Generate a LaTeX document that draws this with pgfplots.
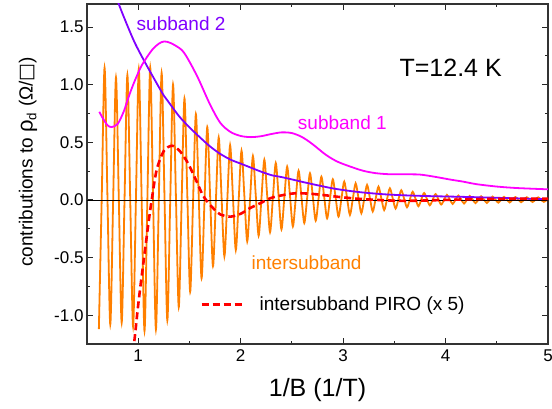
\documentclass[border=0pt]{standalone}
\usepackage{fontspec}
\setmainfont{Liberation Sans}
\newfontfamily\dejavu{DejaVu Sans}
\usepackage{pgfplots}
\pgfplotsset{compat=1.18}
\definecolor{sub2}{RGB}{128,0,255}
\definecolor{sub1}{RGB}{255,0,255}
\definecolor{inter}{RGB}{255,128,0}
\definecolor{piro}{RGB}{255,0,0}

\begin{document}
\begin{tikzpicture}
\begin{axis}[
    scale only axis,
    width=461pt, height=340pt,
    xmin=0.5, xmax=5,
    ymin=-1.25, ymax=1.7,
    xtick={1,2,3,4,5},
    minor xtick={0.5,1.5,2.5,3.5,4.5},
    ytick={-1,-0.5,0,0.5,1,1.5},
    minor ytick={-0.75,-0.25,0.25,0.75,1.25},
    tick align=inside,
    major tick length=6pt, minor tick length=3pt,
    every tick/.style={black!85, line width=1pt},
    axis line style={black!80, line width=1.3pt},
    ticklabel style={font=\fontsize{17}{17}\selectfont, /pgf/number format/assume math mode=true},
    yticklabel style={/pgf/number format/.cd, fixed, fixed zerofill, precision=1},
    xticklabel style={yshift=-2pt},
    xlabel={1/B (1/T)},
    xlabel style={font=\fontsize{25}{25}\selectfont, at={(axis description cs:0.5,-0.135)}, anchor=center},
    ylabel={contributions to {\fontsize{22}{22}\selectfont ρ}\textsubscript{d} (Ω/{\dejavu □})},
    ylabel style={font=\fontsize{19}{19}\selectfont, at={(axis description cs:-0.128,0.536)}, anchor=center},
]

% intersubband oscillations: trough, mid, peak, mid per period
\addplot[inter, line width=1.8pt, smooth] coordinates {
(0.6158,-1.120)(0.6437,0.013)(0.6715,1.146)(0.6994,0.033)
(0.7272,-1.080)(0.7551,-0.009)(0.7829,1.062)(0.8108,-0.002)
(0.8386,-1.065)(0.8665,0.010)(0.8943,1.085)(0.9222,-0.008)
(0.9500,-1.100)(0.9779,0.019)(1.0057,1.137)(1.0336,0.000)
(1.0614,-1.137)(1.0893,0.006)(1.1171,1.149)(1.1450,0.012)
(1.1728,-1.125)(1.2007,-0.012)(1.2285,1.102)(1.2564,0.029)
(1.2842,-1.045)(1.3121,-0.022)(1.3399,1.001)(1.3678,0.036)
(1.3956,-0.930)(1.4235,-0.025)(1.4513,0.880)(1.4792,0.042)
(1.5070,-0.797)(1.5349,-0.026)(1.5627,0.745)(1.5906,0.033)
(1.6184,-0.680)(1.6463,-0.024)(1.6741,0.632)(1.7020,0.029)
(1.7298,-0.575)(1.7577,-0.016)(1.7855,0.543)(1.8134,0.027)
(1.8412,-0.490)(1.8691,-0.008)(1.8969,0.475)(1.9248,0.020)
(1.9526,-0.435)(1.9805,-0.004)(2.0083,0.427)(2.0362,0.034)
(2.0640,-0.360)(2.0919,0.011)(2.1197,0.381)(2.1476,0.036)
(2.1754,-0.310)(2.2033,0.020)(2.2311,0.349)(2.2590,0.035)
(2.2868,-0.280)(2.3147,0.020)(2.3425,0.320)(2.3704,0.033)
(2.3982,-0.255)(2.4261,0.017)(2.4539,0.289)(2.4818,0.030)
(2.5096,-0.230)(2.5375,0.012)(2.5653,0.254)(2.5932,0.027)
(2.6210,-0.200)(2.6489,0.016)(2.6767,0.231)(2.7046,0.026)
(2.7324,-0.180)(2.7603,0.011)(2.7881,0.202)(2.8160,0.021)
(2.8438,-0.160)(2.8717,0.010)(2.8995,0.179)(2.9274,0.017)
(2.9552,-0.145)(2.9831,0.007)(3.0109,0.159)(3.0388,0.015)
(3.0666,-0.130)(3.0945,0.007)(3.1223,0.144)(3.1502,0.015)
(3.1780,-0.115)(3.2059,0.008)(3.2337,0.130)(3.2616,0.015)
(3.2894,-0.100)(3.3173,0.008)(3.3451,0.115)(3.3730,0.014)
(3.4008,-0.088)(3.4287,0.007)(3.4565,0.101)(3.4844,0.013)
(3.5122,-0.075)(3.5401,0.005)(3.5679,0.084)(3.5958,0.010)
(3.6236,-0.064)(3.6515,0.004)(3.6793,0.071)(3.7072,0.008)
(3.7350,-0.055)(3.7629,0.003)(3.7907,0.060)(3.8186,0.007)
(3.8464,-0.047)(3.8743,0.002)(3.9021,0.051)(3.9300,0.006)
(3.9578,-0.040)(3.9857,0.002)(4.0135,0.044)(4.0414,0.005)
(4.0692,-0.035)(4.0971,0.002)(4.1249,0.038)(4.1528,0.004)
(4.1806,-0.031)(4.2085,0.002)(4.2363,0.035)(4.2642,0.004)
(4.2920,-0.028)(4.3199,0.002)(4.3477,0.032)(4.3756,0.003)
(4.4034,-0.026)(4.4313,0.002)(4.4591,0.029)(4.4870,0.003)
(4.5148,-0.024)(4.5427,0.002)(4.5705,0.027)(4.5984,0.003)
(4.6262,-0.022)(4.6541,0.002)(4.6819,0.025)(4.7098,0.003)
(4.7376,-0.020)(4.7655,0.002)(4.7933,0.023)(4.8212,0.003)
(4.8490,-0.018)(4.8769,0.002)(4.9047,0.022)(4.9326,0.003)
(4.9604,-0.017)(5.0000,0.010)
};

% zero line
\addplot[black, line width=0.8pt] coordinates {(0.5,0) (5,0)};

% subband 2
\addplot[sub2, line width=1.8pt, smooth] coordinates {
(0.75,1.86)(0.81,1.70)(0.90,1.50)(0.97,1.357)(1.05,1.22)(1.134,1.085)
(1.25,0.905)(1.30,0.845)(1.40,0.725)(1.50,0.63)(1.60,0.545)(1.70,0.465)
(1.80,0.40)(1.90,0.35)(2.0,0.315)(2.1,0.28)(2.2,0.245)(2.3,0.215)
(2.4,0.198)(2.5,0.178)(2.6,0.157)(2.7,0.137)(2.8,0.118)(2.9,0.10)
(3.0,0.086)(3.1,0.074)(3.2,0.064)(3.3,0.056)(3.4,0.049)(3.5,0.044)
(3.6,0.040)(3.8,0.034)(4.0,0.030)(4.2,0.026)(4.4,0.021)(4.6,0.016)
(4.8,0.011)(5.0,0.007)
};

% subband 1
\addplot[sub1, line width=1.8pt, smooth] coordinates {
(0.62,0.765)(0.66,0.70)(0.70,0.648)(0.74,0.632)(0.80,0.66)(0.86,0.77)
(0.905,0.89)(0.96,1.02)(1.036,1.17)(1.134,1.30)(1.20,1.355)(1.254,1.375)
(1.32,1.36)(1.426,1.30)(1.50,1.20)(1.588,1.05)(1.70,0.83)(1.80,0.67)
(1.90,0.59)(2.0,0.555)(2.1,0.545)(2.2,0.553)(2.3,0.572)(2.4,0.586)
(2.5,0.58)(2.6,0.545)(2.7,0.485)(2.834,0.39)(2.95,0.33)(3.1,0.28)
(3.2,0.252)(3.32,0.232)(3.45,0.223)(3.6,0.222)(3.75,0.220)(3.9,0.20)
(4.05,0.176)(4.17,0.159)(4.3,0.137)(4.5,0.116)(4.7,0.103)(5.0,0.092)
};

% intersubband PIRO (x 5)
\addplot[piro, line width=2.6pt, dash pattern=on 7pt off 4pt, smooth] coordinates {
(0.950,-1.32)(0.975,-1.12)(0.995,-0.95)(1.02,-0.76)(1.06,-0.48)(1.10,-0.20)
(1.13,-0.01)(1.18,0.26)(1.25,0.425)(1.33,0.47)(1.40,0.43)(1.475,0.335)
(1.55,0.20)(1.62,0.06)(1.67,-0.01)(1.74,-0.08)(1.80,-0.125)(1.90,-0.145)
(2.0,-0.12)(2.09,-0.072)(2.19,-0.029)(2.29,0.015)(2.385,0.037)(2.5,0.055)
(2.58,0.058)(2.7,0.052)(2.85,0.038)(2.97,0.025)(3.15,0.010)(3.4,-0.003)
(3.6,-0.008)(3.8,-0.005)(4.0,0.0)(4.3,0.007)(4.6,0.010)(5.0,0.010)
};

\draw[piro, line width=2.6pt, dash pattern=on 7pt off 4pt] (axis cs:1.62,-0.909) -- (axis cs:2.044,-0.909);
\node[anchor=base west, font=\fontsize{19}{19}\selectfont] at (axis cs:2.151,-0.961) {intersubband PIRO (x 5)};
\node[anchor=base west, text=sub2, font=\fontsize{19}{19}\selectfont] at (axis cs:0.951,1.472) {subband 2};
\node[anchor=base west, text=sub1, font=\fontsize{19}{19}\selectfont] at (axis cs:2.525,0.612) {subband 1};
\node[anchor=base west, text=inter, font=\fontsize{19}{19}\selectfont] at (axis cs:2.073,-0.606) {intersubband};
\node[anchor=base west, font=\fontsize{25}{25}\selectfont] at (axis cs:3.517,1.074) {T=12.4 K};
\end{axis}
\pgfresetboundingbox
\path ([xshift=-87pt,yshift=-65pt]current axis.south west) rectangle ([xshift=4pt,yshift=4pt]current axis.north east);
\end{tikzpicture}
\end{document}
